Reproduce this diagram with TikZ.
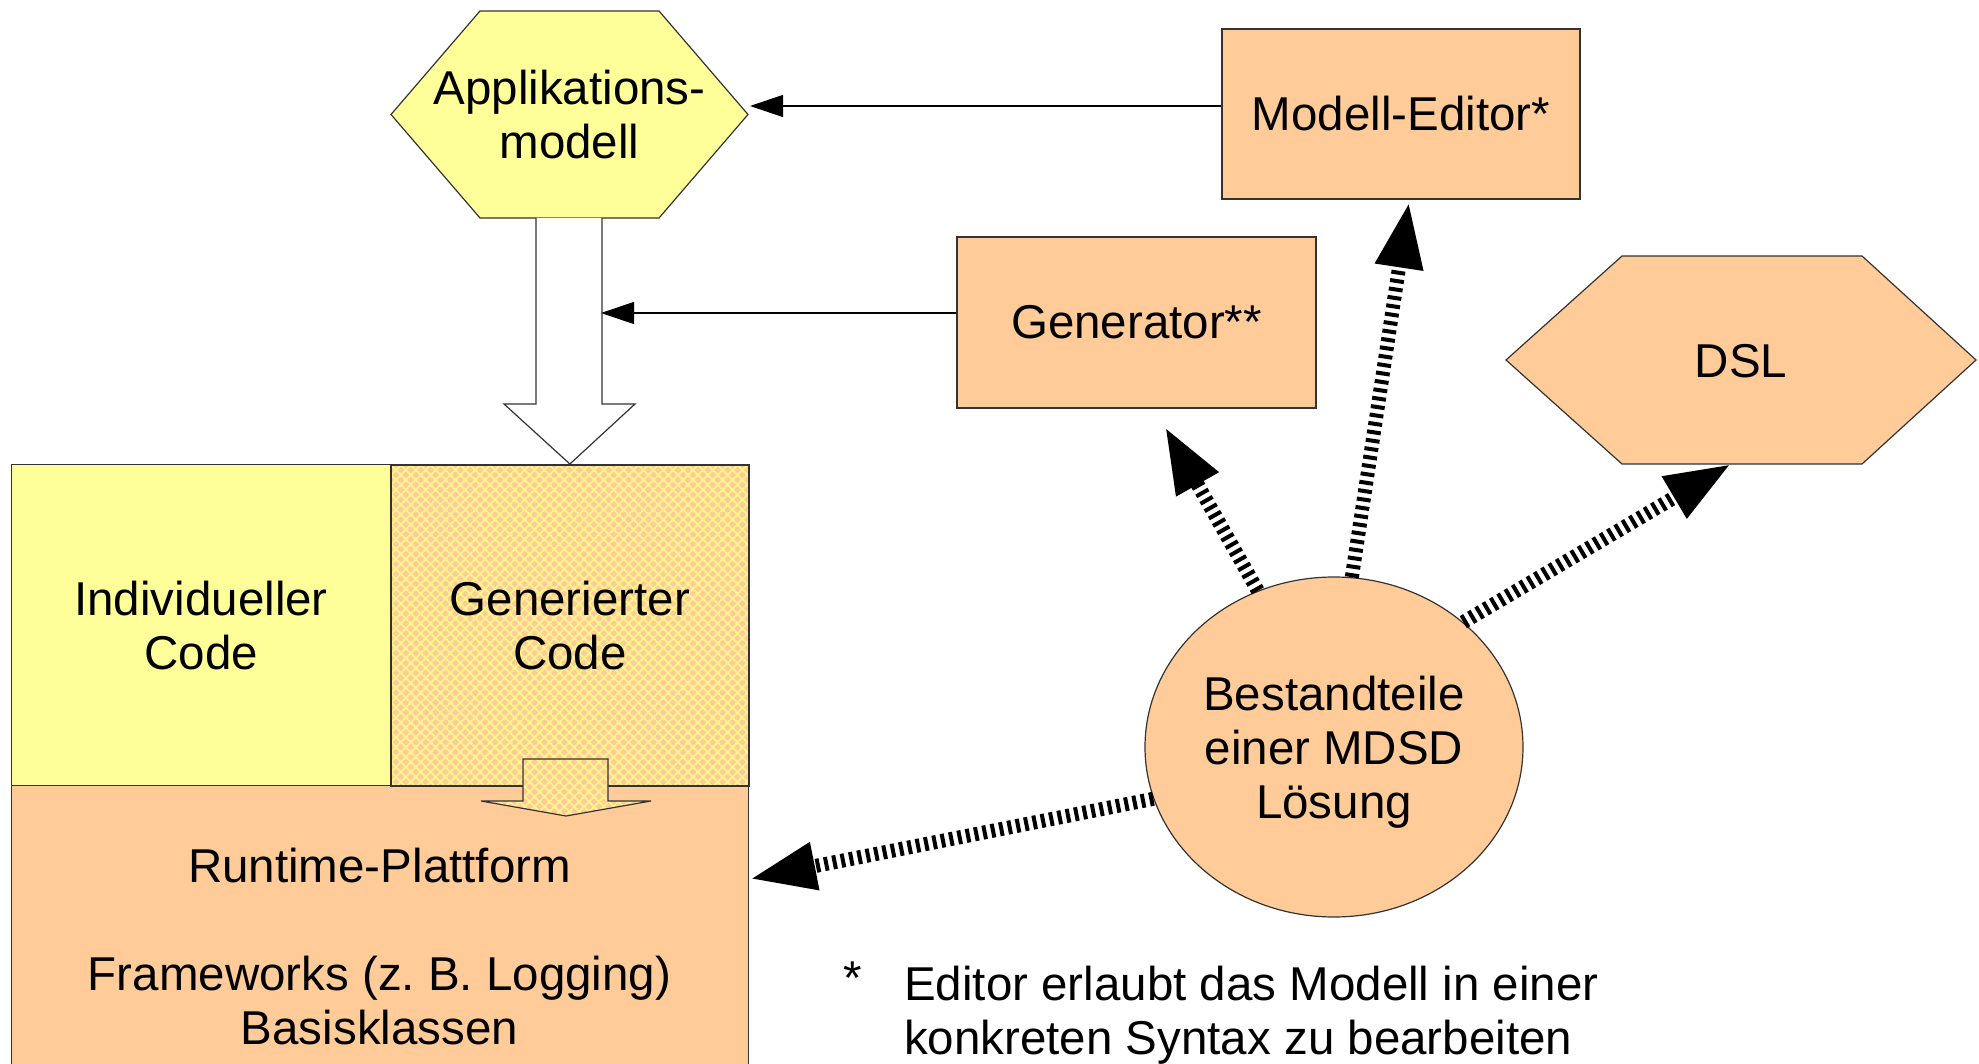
\documentclass[tikz,border=0pt]{standalone}
\usepackage{fontspec}
\setmainfont{Liberation Sans}
\usetikzlibrary{arrows.meta,patterns.meta,shapes.geometric}
\definecolor{paleyellow}{HTML}{FFFF99}
\definecolor{hatchyellow}{HTML}{FFF58A}
\definecolor{peach}{HTML}{FFCC99}
\definecolor{edgegray}{HTML}{333333}
\frenchspacing
\tikzset{
  lbl/.style={font=\fontsize{47.5}{54}\selectfont, align=center, inner sep=0pt},
  outline/.style={draw=edgegray, line width=1.2pt},
  boxnode/.style={outline, fill=peach, rectangle, inner sep=0pt, font=\fontsize{47.5}{54}\selectfont},
  hatched/.style={preaction={fill=peach}, pattern={Hatch[angle=45,distance=7pt,line width=1.8pt]}, pattern color=hatchyellow},
  thinarrow/.style={draw=black, line width=1.2pt, -{Triangle[length=33pt,width=22pt]}},
  striped/.style={draw=black, line width=14pt, dash pattern=on 4pt off 4.5pt, -{Triangle[length=66pt,width=45pt]}},
}
\begin{document}
\begin{tikzpicture}[x=1pt,y=-1pt]
\useasboundingbox (0,0) rectangle (1979,1064);
\clip (0,0) rectangle (1979,1064);

% code blocks on the left
\node[boxnode, anchor=north west, minimum width=737pt, minimum height=340pt] (runtime) at (11,785) {};
\node[outline, fill=paleyellow, anchor=north west, minimum width=379pt, minimum height=321pt, inner sep=0pt] (indiv) at (11,464) {};
\node[outline, hatched, anchor=north west, minimum width=358pt, minimum height=321pt, inner sep=0pt] (genc) at (390,464) {};
\node[lbl] (indivtxt) at (indiv.center) {Individueller\\Code};
\node[lbl] (genctxt) at (genc.center) {Generierter\\Code};
\node[lbl] (rttxt) at (379.5,947) {Runtime-Plattform\\[54pt]Frameworks (z. B. Logging)\\Basisklassen};

% generated code builds on the runtime platform
\draw[outline, hatched] (523,759) -- (608,759) -- (608,801) -- (651,801) -- (566,816)
  -- (481,801) -- (523,801) -- cycle;

% application model
\draw[outline, fill=paleyellow] (391,114.5) -- (480,11) -- (659,11) -- (748,114.5)
  -- (659,218) -- (480,218) -- cycle;
\node[lbl] (app) at (569.5,114.5) {Applikations-\\modell};

% hollow arrow from the model into the generated code
\draw[outline, fill=white] (536,218) -- (536,404) -- (504,404) -- (genc.north)
  -- (635,404) -- (602,404) -- (602,218);

% tools
\node[boxnode, minimum width=358pt, minimum height=170pt] (editor) at (1401,114) {Modell-Editor*};
\node[boxnode, minimum width=359pt, minimum height=171pt] (gen) at (1136.5,322.5) {Generator**};

% DSL
\draw[outline, fill=peach] (1506,360) -- (1622,256) -- (1862,256) -- (1976,360)
  -- (1862,464) -- (1622,464) -- cycle;
\node[lbl] (dsl) at (1741,361) {DSL};

% MDSD components
\node[ellipse, outline, fill=peach, minimum width=378pt, minimum height=340pt, inner sep=0pt] (mdsd) at (1334,747) {};
\node[lbl] (mdsdtxt) at (1334,752) {Bestandteile\\einer MDSD\\Lösung};

% thin connectors
\coordinate (appTip) at (750,106);
\draw[thinarrow] (editor.west |- appTip) -- (appTip);
\coordinate (shaftTip) at (601,313);
\draw[thinarrow] (gen.west |- shaftTip) -- (shaftTip);

% striped connectors
\coordinate (genTip) at (1165,427);
\coordinate (editorTip) at (1409,202);
\coordinate (dslTip) at (1731,464);
\coordinate (rtTip) at (750,879);
\draw[striped] (mdsd.116) -- (genTip);
\draw[striped] (mdsd.84) -- (editorTip);
\draw[striped] (mdsd.44) -- (dslTip);
\draw[striped] (mdsd.196) -- (rtTip);

% footnote
\node[lbl] (star) at (853,978) {*};
\node[lbl, align=left, anchor=west] (note) at (904,1015) {Editor erlaubt das Modell in einer\\konkreten Syntax zu bearbeiten};
\end{tikzpicture}
\end{document}
